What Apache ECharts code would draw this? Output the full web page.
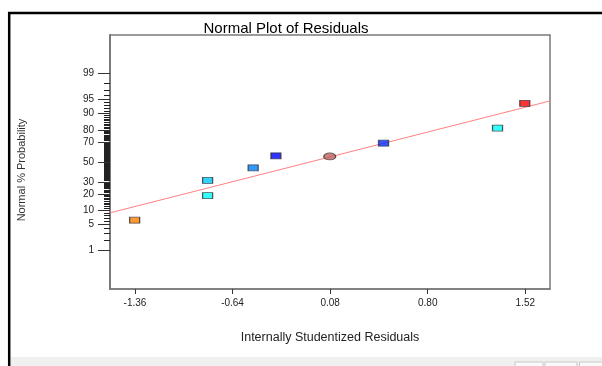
<!DOCTYPE html>
<html>
<head>
<meta charset="utf-8">
<script src="https://cdn.jsdelivr.net/npm/echarts@6/dist/echarts.min.js"></script>
<style>
html,body{margin:0;padding:0;background:#fff;}
#chart{width:602px;height:366px;}
</style>
</head>
<body>
<div id="chart"></div>
<script>
// ---- data ----
var residuals   = [-1.362, -0.824, -0.824, -0.488, -0.320, 0.077, 0.474, 1.315, 1.516];
var probability = [6.25, 18.75, 31.25, 43.75, 56.25, 55.6, 68.75, 81.25, 93.75];
var pointColors = ['#ff8000', '#00ffff', '#00c8ff', '#0080ff', '#0000ff', '#c06060', '#0030ff', '#00ffff', '#ff0000'];
var pointShapes = ['rect', 'rect', 'rect', 'rect', 'rect', 'ellipse', 'rect', 'rect', 'rect'];
var lineResidual = [-1.544, 1.702];
var lineProbability = [9.0, 94.5];
var xTicks = [-1.36, -0.64, 0.08, 0.80, 1.52];
var yTickLabels = [1, 5, 10, 20, 30, 50, 70, 80, 90, 95, 99];
var yMinorTicks = (function(){ var a=[2,3,4]; for (var p=6;p<=94;p++){ if (yTickLabels.indexOf(p)<0) a.push(p);} a.push(96,97,98); return a; })();

// inverse normal CDF (probability axis transform)
function probit(p){
  var a=[-3.969683028665376e+01,2.209460984245205e+02,-2.759285104469687e+02,1.383577518672690e+02,-3.066479806614716e+01,2.506628277459239e+00];
  var b=[-5.447609879822406e+01,1.615858368580409e+02,-1.556989798598866e+02,6.680131188771972e+01,-1.328068155288572e+01];
  var c=[-7.784894002430293e-03,-3.223964580411365e-01,-2.400758277161838e+00,-2.549732539343734e+00,4.374664141464968e+00,2.938163982698783e+00];
  var d=[7.784695709041462e-03,3.224671290700398e-01,2.445134137142996e+00,3.754408661907416e+00];
  var pl=0.02425, q, r;
  if (p<pl){ q=Math.sqrt(-2*Math.log(p)); return (((((c[0]*q+c[1])*q+c[2])*q+c[3])*q+c[4])*q+c[5])/((((d[0]*q+d[1])*q+d[2])*q+d[3])*q+1); }
  if (p<=1-pl){ q=p-0.5; r=q*q; return (((((a[0]*r+a[1])*r+a[2])*r+a[3])*r+a[4])*r+a[5])*q/(((((b[0]*r+b[1])*r+b[2])*r+b[3])*r+b[4])*r+1); }
  q=Math.sqrt(-2*Math.log(1-p)); return -(((((c[0]*q+c[1])*q+c[2])*q+c[3])*q+c[4])*q+c[5])/((((d[0]*q+d[1])*q+d[2])*q+d[3])*q+1);
}
function z(pct){ return probit(pct/100); }

var yMajorZ = yTickLabels.map(z);
var yMinorZ = yMinorTicks.map(z);

var scatterData = residuals.map(function(x,i){
  return {
    value:[x, z(probability[i])],
    symbol: pointShapes[i]==='ellipse' ? 'circle' : 'rect',
    symbolSize: pointShapes[i]==='ellipse' ? [12,7] : [10,6],
    itemStyle:{color:pointColors[i], borderColor:'#303030', borderWidth:1}
  };
});
var lineData = lineResidual.map(function(x,i){ return [x, z(lineProbability[i])]; });

var chart = echarts.init(document.getElementById('chart'), null, {renderer:'canvas'});
var FONT = 'Liberation Sans, Arial, sans-serif';
chart.setOption({
  animation:false,
  backgroundColor:'#ffffff',
  title:{
    text:'Normal Plot of Residuals',
    left:281, top:16, textAlign:'center',
    textStyle:{fontFamily:FONT, fontSize:15, fontWeight:'normal', color:'#000'}
  },
  grid:{left:110, right:52, top:35, bottom:77, show:true, borderColor:'#7a7a7a', borderWidth:1.5, backgroundColor:'transparent'},
  xAxis:{
    type:'value', min:-1.544, max:1.702,
    name:'Internally Studentized Residuals', nameLocation:'middle', nameGap:42,
    nameTextStyle:{fontFamily:FONT, fontSize:12.5, color:'#222'},
    axisLine:{show:true, onZero:false, lineStyle:{color:'#7a7a7a', width:1.5}},
    axisTick:{show:true, customValues:xTicks, length:5, lineStyle:{color:'#333'}},
    axisLabel:{customValues:xTicks, margin:9, fontFamily:FONT, fontSize:10, color:'#222',
      formatter:function(v){ return v.toFixed(2); }},
    splitLine:{show:false}
  },
  yAxis:[{
    type:'value', min:-3.34, max:3.33,
    axisLine:{show:true, onZero:false, lineStyle:{color:'#7a7a7a', width:2}},
    axisTick:{show:true, customValues:yMajorZ, length:12, lineStyle:{color:'#333'}},
    axisLabel:{customValues:yMajorZ, margin:16, fontFamily:FONT, fontSize:10, color:'#222',
      formatter:function(v){
        var best=0, bd=1e9;
        for (var i=0;i<yMajorZ.length;i++){ var dd=Math.abs(yMajorZ[i]-v); if (dd<bd){bd=dd;best=i;} }
        return String(yTickLabels[best]);
      }},
    splitLine:{show:false}
  },{
    type:'value', min:-3.34, max:3.33, position:'left',
    axisLine:{show:false, onZero:false},
    axisTick:{show:true, customValues:yMinorZ, length:6, lineStyle:{color:'#222'}},
    axisLabel:{show:false},
    splitLine:{show:false}
  }],
  series:[{
    type:'line', data:lineData, showSymbol:false, symbol:'none',
    lineStyle:{color:'#ff8080', width:1}, z:2, silent:true
  },{
    type:'scatter', data:scatterData, z:3
  }],
  graphic:[
    {type:'text', x:22, y:170, rotation:Math.PI/2,
      style:{text:'Normal % Probability', fontFamily:FONT, fontSize:11, fill:'#333', align:'center', verticalAlign:'middle'}},
    {type:'rect', shape:{x:11, y:357, width:591, height:9}, style:{fill:'#f0f0f0'}, z:10},
    {type:'rect', shape:{x:515, y:362, width:28, height:6}, style:{fill:'#fafafa', stroke:'#c8c8c8', lineWidth:1}, z:11},
    {type:'rect', shape:{x:545, y:362, width:32, height:6}, style:{fill:'#fafafa', stroke:'#c8c8c8', lineWidth:1}, z:11},
    {type:'rect', shape:{x:579.5, y:362, width:25, height:6}, style:{fill:'#fafafa', stroke:'#c8c8c8', lineWidth:1}, z:11},
    {type:'line', shape:{x1:8, y1:13, x2:602, y2:13}, style:{stroke:'#000', lineWidth:2.5}, z:10},
    {type:'line', shape:{x1:9.2, y1:12, x2:9.2, y2:366}, style:{stroke:'#000', lineWidth:2.5}, z:10}
  ]
});
</script>
</body>
</html>
